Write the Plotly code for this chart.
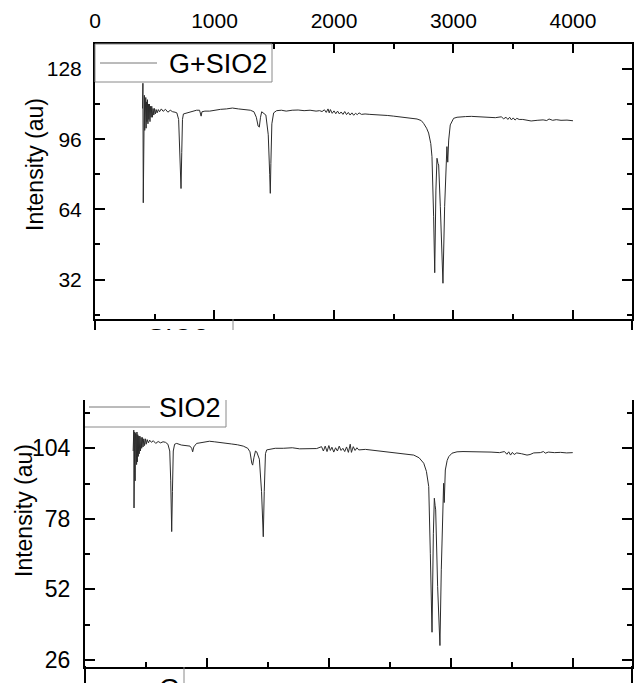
import plotly.graph_objects as go

W, H = 637, 683

# ---------------- data ----------------
top_label = "G+SIO2"
bot_label = "SIO2"

top_wn = [398, 401, 404, 407, 410, 413, 416, 419, 422, 425, 428, 431, 435, 439, 443, 447, 451, 455, 460, 465,
          470, 475, 480, 486, 492, 498, 505, 512, 520, 530, 540, 555, 570, 590, 610, 630, 650, 670, 685, 700,
          712, 720, 726, 732, 740, 760, 790, 820, 850, 875, 882, 888, 895, 920, 960, 1000, 1050, 1100, 1150, 1200,
          1250, 1300, 1330, 1350, 1365, 1375, 1385, 1395, 1430, 1450, 1462, 1467, 1472, 1480, 1495, 1520, 1560, 1600, 1650, 1700,
          1750, 1800, 1850, 1880, 1900, 1920, 1935, 1950, 1960, 1970, 1985, 2000, 2015, 2030, 2045, 2060, 2075, 2090, 2105, 2120,
          2135, 2150, 2165, 2180, 2195, 2210, 2230, 2260, 2300, 2350, 2400, 2450, 2500, 2550, 2600, 2650, 2695, 2730, 2750, 2775,
          2792, 2810, 2820, 2834, 2843, 2853, 2862, 2870, 2876, 2890, 2912, 2926, 2940, 2945, 2952, 2956, 2960, 2973, 2990, 3001,
          3030, 3057, 3100, 3150, 3200, 3250, 3300, 3350, 3400, 3420, 3440, 3455, 3470, 3485, 3500, 3515, 3530, 3550, 3580, 3620,
          3650, 3700, 3750, 3780, 3800, 3830, 3860, 3900, 3950, 4000]
top_int = [110, 121.5, 67, 112, 96, 116, 100, 114, 103, 115, 101, 113, 104, 114, 103, 112, 105, 112, 104, 111,
           106, 111, 106, 110, 107, 110, 107.5, 109.5, 108, 109.5, 108.5, 109.8, 108.7, 109.6, 108.3, 109.2, 108.5, 108.3, 108.0, 105,
           88, 73.5, 90, 105, 107.5, 107.8, 108.2, 108.8, 109.2, 109.2, 107.5, 106.5, 108.5, 108.8, 108.8, 109.3, 109.6, 109.8, 110.2, 109.8,
           109.5, 109.2, 108.5, 106, 102, 101.5, 106, 108.5, 107, 98, 80, 71.3, 85, 103, 108, 109, 109.2, 108.8, 109.2, 109.3,
           109.0, 109.2, 108.8, 109.0, 108.6, 109.4, 108.2, 109.8, 108, 109.5, 107.8, 108.9, 107.6, 108.8, 107.5, 108.4, 107.3, 108.6, 107.2, 108.2,
           107.0, 108.0, 106.9, 107.8, 107.2, 108.0, 107.3, 107.5, 107.3, 107.2, 106.9, 106.8, 106.5, 106.2, 106.0, 105.6, 105.2, 104.5, 103.2, 101,
           98.8, 94, 88, 60.6, 35.1, 72.8, 87.3, 85, 84.2, 65.2, 30.3, 65.2, 85, 92.6, 85.5, 92, 95.6, 102.5, 104.8, 105.5,
           106.0, 106.2, 106.3, 106.4, 106.3, 106.2, 106.0, 105.8, 106.2, 105.3, 106.0, 105.0, 106.0, 104.8, 105.7, 104.7, 105.5, 105.0, 105.0, 104.5,
           104.3, 104.6, 104.8, 104.5, 105.2, 104.6, 104.9, 104.6, 104.7, 104.4]

bot_wn = [395, 400, 402, 404, 406, 408, 411, 414, 417, 420, 423, 426, 429, 433, 437, 441, 445, 450, 455, 460,
          465, 470, 476, 482, 488, 495, 502, 510, 520, 530, 545, 560, 580, 600, 620, 640, 660, 680, 695, 703,
          711, 717, 724, 735, 752, 790, 830, 861, 875, 883, 892, 915, 943, 980, 1020, 1060, 1107, 1150, 1200, 1250,
          1298, 1335, 1353, 1368, 1375, 1385, 1398, 1408, 1430, 1448, 1462, 1470, 1480, 1490, 1520, 1560, 1626, 1700, 1760, 1845,
          1900, 1940, 1955, 1970, 1985, 2000, 2012, 2025, 2040, 2055, 2070, 2085, 2100, 2115, 2130, 2145, 2160, 2175, 2185, 2200,
          2215, 2230, 2245, 2300, 2350, 2400, 2450, 2500, 2550, 2600, 2650, 2696, 2740, 2778, 2800, 2819, 2832, 2846, 2857, 2865,
          2871, 2876, 2892, 2911, 2922, 2936, 2941, 2946, 2950, 2955, 2970, 2983, 3010, 3051, 3100, 3150, 3200, 3270, 3330, 3400,
          3440, 3460, 3475, 3490, 3505, 3520, 3540, 3580, 3610, 3625, 3650, 3680, 3734, 3760, 3775, 3800, 3850, 3900, 3950, 4000]
bot_int = [103, 110.7, 82, 108, 86.2, 110, 92, 109.5, 96, 109, 98, 110, 99, 109, 101, 108.5, 102, 108.5, 103, 108,
           104, 108, 104.5, 107.5, 105, 107.5, 105.5, 107.2, 106, 107, 106.2, 106.8, 105.8, 106.5, 106.0, 106.4, 106.2, 105.5, 103, 92,
           73.3, 88, 103, 105.5, 105.8, 105.2, 105.0, 104.8, 104, 102.7, 104.5, 105.8, 106, 106.3, 106.6, 106.4, 106.2, 106.0, 105.6, 105.3,
           104.8, 104, 102.7, 98.5, 97.8, 100.5, 103, 102.7, 100, 88, 71.4, 88, 102, 103.4, 103.6, 104, 104, 104.2, 103.8, 104,
           103.9, 104.6, 103.0, 104.8, 102.8, 105.0, 103.2, 104.4, 102.6, 104.2, 103.0, 104.8, 103.2, 104.0, 102.8, 104.5, 102.5, 105.5, 102.5, 104.6,
           103.2, 104.2, 103.4, 103.6, 103.3, 103.0, 102.7, 102.4, 102.1, 101.9, 101.7, 101.5, 100.5, 98.5, 95.5, 89.9, 65.3, 36.2, 72.7, 85.6,
           83, 81.3, 53, 31.3, 59.2, 83.7, 91.1, 84, 92, 96, 99.5, 100.9, 102.2, 102.7, 102.8, 102.8, 102.7, 102.7, 102.6, 102.4,
           102.8, 101.8, 102.7, 101.5, 102.5, 101.7, 102.3, 102.0, 101.6, 101.5, 101.7, 102.3, 102.4, 102.8, 102.2, 102.6, 102.4, 102.5, 102.3, 102.4]

top_ticks = [32, 64, 96, 128]
bot_ticks = [26, 52, 78, 104]
x_ticks = [0, 1000, 2000, 3000, 4000]

# ---------------- helpers (pixel -> paper) ----------------
def px(x):
    return x / W

def py(y):
    return 1 - y / H

FONT = "Liberation Sans, Arial, sans-serif"
LINE_C = "#2b2b2b"

fig = go.Figure()
fig.add_trace(go.Scatter(x=top_wn, y=top_int, mode="lines", line=dict(color=LINE_C, width=1),
                         xaxis="x", yaxis="y", showlegend=False))
fig.add_trace(go.Scatter(x=bot_wn, y=bot_int, mode="lines", line=dict(color=LINE_C, width=1),
                         xaxis="x2", yaxis="y2", showlegend=False))
# cut-off legend text of the next (cropped) panel below the top panel
fig.add_trace(go.Scatter(x=[0.6], y=[-1.1], mode="text", text=["SIO2"],
                         textfont=dict(family=FONT, size=27, color="black"),
                         cliponaxis=True, xaxis="x3", yaxis="y3", showlegend=False, hoverinfo="skip"))

axis_common = dict(showgrid=False, zeroline=False, showline=True, linecolor="black", linewidth=2,
                   ticks="inside", tickwidth=2, tickcolor="black", automargin=False)

fig.update_layout(
    width=W, height=H,
    margin=dict(l=0, r=0, t=0, b=0),
    paper_bgcolor="white", plot_bgcolor="white",
    showlegend=False,
    xaxis=dict(**axis_common, domain=[px(95), px(632)], anchor="y", side="top",
               tickfont=dict(family=FONT, size=21, color="black"),
               range=[0, 4494], tickvals=x_ticks, ticklen=9, mirror="ticks", ticklabelstandoff=6,
               minor=dict(dtick=500, tick0=0, ticks="inside", ticklen=5, tickwidth=2, tickcolor="black")),
    yaxis=dict(**axis_common, domain=[py(319), py(44)], anchor="x",
               tickfont=dict(family=FONT, size=21, color="black"),
               range=[14.0, 139.4], tickvals=top_ticks, ticklen=10, mirror="ticks", ticklabelstandoff=7,
               minor=dict(dtick=16, tick0=0, ticks="inside", ticklen=5, tickwidth=2, tickcolor="black")),
    xaxis2=dict(**axis_common, domain=[px(85), px(632)], anchor="y2",
                range=[0, 4486], tickvals=x_ticks, showticklabels=False, ticklen=9, mirror=False,
                minor=dict(dtick=500, tick0=0, ticks="inside", ticklen=5, tickwidth=2, tickcolor="black")),
    yaxis2=dict(**axis_common, domain=[py(666.7), py(400)], anchor="x2",
                tickfont=dict(family=FONT, size=23, color="black"),
                range=[23.5, 121.8], tickvals=bot_ticks, ticklen=10, mirror="ticks", ticklabelstandoff=8,
                minor=dict(dtick=13, tick0=0, ticks="inside", ticklen=5, tickwidth=2, tickcolor="black")),
    xaxis3=dict(domain=[px(95), px(233)], anchor="y3", range=[0, 1], visible=False),
    yaxis3=dict(domain=[py(330), py(320)], anchor="x3", range=[0, 1], visible=False),
)

shapes = []
# axis line extensions (cropped neighbouring panels)
for (x, y0, y1) in [(95, 319, 330), (632, 319, 330), (85, 666, 683), (632, 666, 683)]:
    shapes.append(dict(type="line", xref="paper", yref="paper", x0=px(x), x1=px(x), y0=py(y0), y1=py(y1),
                       line=dict(color="black", width=2)))
# top legend box
shapes.append(dict(type="rect", xref="paper", yref="paper", x0=px(95), x1=px(272), y0=py(82), y1=py(44),
                   line=dict(color="#8a8a8a", width=1), fillcolor="white", layer="above"))
shapes.append(dict(type="line", xref="paper", yref="paper", x0=px(100), x1=px(157), y0=py(63), y1=py(63),
                   line=dict(color="#777777", width=1), layer="above"))
# bottom legend box (top cut)
shapes.append(dict(type="line", xref="paper", yref="paper", x0=px(85), x1=px(226), y0=py(427), y1=py(427),
                   line=dict(color="#8a8a8a", width=1)))
shapes.append(dict(type="line", xref="paper", yref="paper", x0=px(226), x1=px(226), y0=py(427), y1=py(400),
                   line=dict(color="#8a8a8a", width=1)))
shapes.append(dict(type="line", xref="paper", yref="paper", x0=px(89), x1=px(150), y0=py(407), y1=py(407),
                   line=dict(color="#777777", width=1)))
# fragment legend boxes of cropped panels
shapes.append(dict(type="line", xref="paper", yref="paper", x0=px(233), x1=px(233), y0=py(319), y1=py(330),
                   line=dict(color="#8a8a8a", width=1)))
shapes.append(dict(type="line", xref="paper", yref="paper", x0=px(184), x1=px(184), y0=py(667), y1=py(683),
                   line=dict(color="#8a8a8a", width=1)))
fig.update_layout(shapes=shapes)

ann = []
ann.append(dict(text=top_label, xref="paper", yref="paper", x=px(167), y=py(64), xanchor="left", yanchor="middle",
                showarrow=False, font=dict(family=FONT, size=27, color="black")))
ann.append(dict(text=bot_label, xref="paper", yref="paper", x=px(157), y=py(408), xanchor="left", yanchor="middle",
                showarrow=False, font=dict(family=FONT, size=27, color="black")))
ann.append(dict(text="G", xref="paper", yref="paper", x=px(169), y=py(689), xanchor="center", yanchor="middle",
                showarrow=False, font=dict(family=FONT, size=27, color="black")))
ann.append(dict(text="Intensity (au)", xref="paper", yref="paper", x=px(35), y=py(165), textangle=-90,
                xanchor="center", yanchor="middle", showarrow=False, font=dict(family=FONT, size=23, color="black")))
ann.append(dict(text="Intensity (au)", xref="paper", yref="paper", x=px(24), y=py(511), textangle=-90,
                xanchor="center", yanchor="middle", showarrow=False, font=dict(family=FONT, size=23, color="black")))
fig.update_layout(annotations=ann)

fig.write_html("out.html")
